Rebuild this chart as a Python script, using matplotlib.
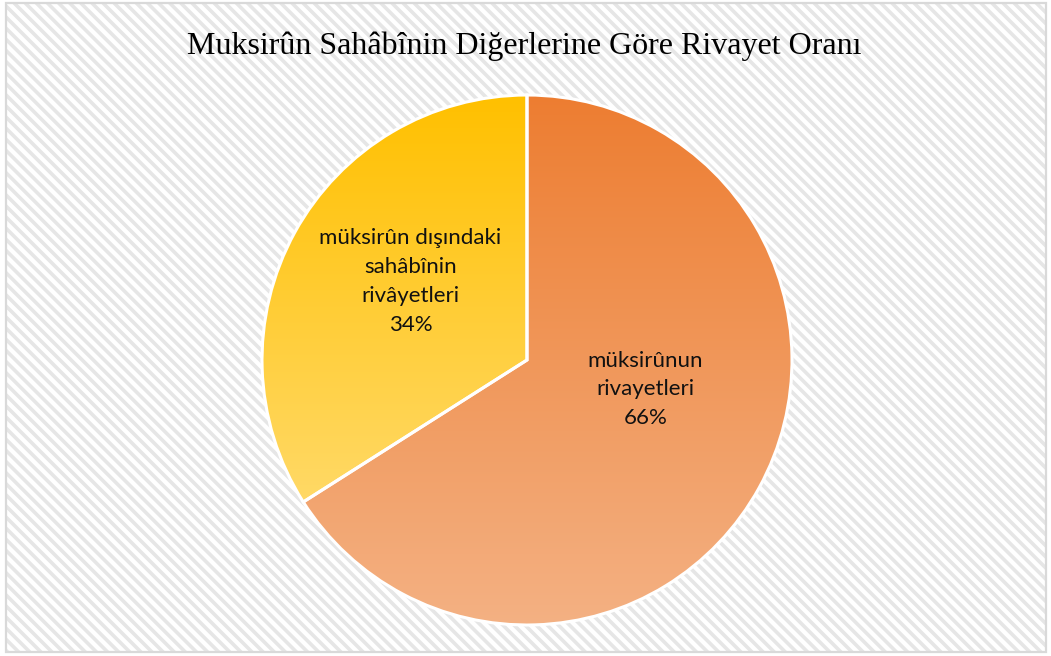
import numpy as np
import matplotlib
matplotlib.use("Agg")
import matplotlib.pyplot as plt
from matplotlib.patches import Rectangle
from matplotlib.colors import LinearSegmentedColormap

# data
labels = ["müksirûnun\nrivayetleri", "müksirûn dışındaki\nsahâbînin\nrivâyetleri"]
values = [66, 34]
title = "Muksirûn Sahâbînin Diğerlerine Göre Rivayet Oranı"

# gradient colours per slice (top -> bottom)
grad_colors = [("#ED7D31", "#F4B183"), ("#FFC000", "#FFD966")]
# label placement (angle in deg, fraction of radius)
label_pos = [(-14, 0.46), (146, 0.53)]

W, H = 1051, 656
plt.rcParams['hatch.linewidth'] = 2.6

fig = plt.figure(figsize=(W / 100, H / 100), dpi=100)
ax = fig.add_axes([0, 0, 1, 1])

# hatched background + border
ax.add_patch(Rectangle((6, 4), 1040, 649, facecolor="white", edgecolor="#E6E6E6",
                       hatch="\\\\\\", linewidth=0, zorder=0))
ax.add_patch(Rectangle((6, 4), 1040, 649, facecolor="none", edgecolor="#D9D9D9",
                       linewidth=1.6, zorder=1))

cx, cy, r = 527, 296, 265
wedges, _ = ax.pie(values, startangle=90, counterclock=False, center=(cx, cy), radius=r,
                   wedgeprops=dict(edgecolor="white", linewidth=2.2), frame=True)
ax.set_xlim(0, W)
ax.set_ylim(0, H)
ax.set_aspect("equal")
ax.axis("off")

for w, (c0, c1) in zip(wedges, grad_colors):
    verts = w.get_path().vertices
    y0, y1 = verts[:, 1].min(), verts[:, 1].max()
    cmap = LinearSegmentedColormap.from_list("g", [c1, c0])
    grad = np.linspace(0, 1, 256).reshape(-1, 1)
    im = ax.imshow(grad, cmap=cmap, origin="lower", aspect="auto",
                   extent=(cx - r, cx + r, y0, y1), zorder=2)
    im.set_clip_path(w)
    w.set_facecolor("none")
    w.set_zorder(3)

for lab, v, (ang, frac) in zip(labels, values, label_pos):
    a = np.deg2rad(ang)
    ax.text(cx + frac * r * np.cos(a), cy + frac * r * np.sin(a), f"{lab}\n{v}%",
            ha="center", va="center", fontsize=16, family="Lato",
            linespacing=1.55, color="#111111", zorder=4)

ax.text(W / 2 - 1, H - 46, title, ha="center", va="center", fontsize=23,
        family="Liberation Serif", color="black", zorder=4)

fig.savefig("out.png", dpi=100)
